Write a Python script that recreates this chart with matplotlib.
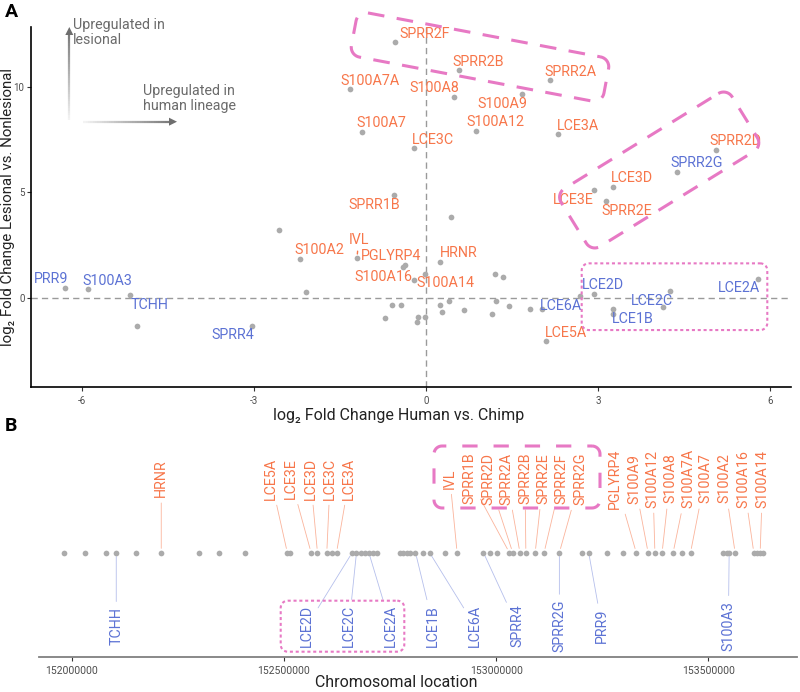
import numpy as np
import matplotlib
matplotlib.use("Agg")
import matplotlib.pyplot as plt
from matplotlib.lines import Line2D
from matplotlib.patches import Polygon

plt.rcParams['font.family'] = ['Roboto', 'DejaVu Sans']
plt.rcParams['lines.scale_dashes'] = False
plt.rcParams['axes.unicode_minus'] = False

ORANGE = "#F7764A"
BLUE = "#5C72D4"
PINK = "#E779C4"
DOT = "#ABABAB"
W, H = 800, 692

# ---- panel A: log2FC human vs chimp (x) and lesional vs nonlesional (y)
fc_human = [-0.55, 0.57, 2.16, -1.33, 0.48, 1.66, -1.12, 0.86, -0.22, 2.30,
            5.05, 4.38, 3.25, 2.93, 3.14, -0.56, 0.43, -1.21, -0.41, -0.37,
            0.23, -0.21, -0.02, 1.20, 1.34, 2.93, 2.68, 4.25, 5.79, 4.12,
            3.26, 3.25, 2.02, 2.08, 1.81, 1.44, 1.22, 1.14, 0.66, 0.39,
            0.24, 0.27, -0.03, -0.15, -0.17, -0.44, -0.60, -0.72, -2.57, -2.21,
            -2.09, -6.31, -5.90, -5.17, -5.05, -3.04]
fc_lesion = [12.14, 10.79, 10.32, 9.90, 9.54, 9.68, 7.88, 7.91, 7.09, 7.75,
             7.01, 5.98, 5.24, 5.11, 4.60, 4.86, 3.82, 1.88, 1.44, 1.54,
             1.69, 0.84, 1.14, 1.14, 1.00, 0.19, 0.07, 0.32, 0.90, -0.44,
             -0.55, -0.76, -0.55, -2.05, -0.52, -0.41, -0.17, -0.76, -0.57, -0.16,
             -0.36, -0.69, -0.93, -0.92, -1.17, -0.36, -0.36, -0.96, 3.23, 1.85,
             0.26, 0.47, 0.40, 0.11, -1.36, -1.34]

# label name, label position, up (orange) / down (blue) in human lineage
a_labels = ["SPRR2F", "SPRR2B", "SPRR2A", "S100A7A", "S100A8", "S100A9", "S100A7",
            "S100A12", "LCE3C", "LCE3A", "SPRR2D", "SPRR2G", "LCE3D", "LCE3E",
            "SPRR2E", "SPRR1B", "IVL", "PGLYRP4", "HRNR", "S100A16", "S100A14",
            "S100A2", "LCE5A", "LCE2D", "LCE2A", "LCE2C", "LCE1B", "LCE6A",
            "PRR9", "S100A3", "TCHH", "SPRR4"]
a_lab_x = [-0.02, 0.91, 2.51, -0.99, 0.14, 1.32, -0.79, 1.20, 0.12, 2.64,
           5.39, 4.72, 3.58, 2.57, 3.49, -0.90, -1.18, -0.61, 0.57, -0.74, 0.33,
           -1.87, 2.43, 3.08, 5.45, 3.93, 3.60, 2.35, -6.55, -5.56, -4.83, -3.37]
a_lab_y = [12.50, 11.20, 10.73, 10.30, 9.95, 9.21, 8.29, 8.32, 7.48, 8.15,
           7.42, 6.41, 5.67, 4.64, 4.13, 4.40, 2.74, 1.96, 2.12, 0.98, 0.70,
           2.26, -1.66, 0.60, 0.45, -0.14, -1.01, -0.39, 0.89, 0.81, -0.35, -1.79]
a_lab_up = [1, 1, 1, 1, 1, 1, 1, 1, 1, 1, 1, 0, 1, 1, 1, 1, 1, 1, 1, 1, 1,
            1, 1, 0, 0, 0, 0, 0, 0, 0, 0, 0]
ivl_point = (-1.21, 1.88)

# ---- panel B: chromosomal location of each gene
chrom_pos = [151982000, 152031000, 152082000, 152105000, 152152000, 152211000,
             152301000, 152347000, 152409000, 152508000, 152514000, 152564000,
             152579000, 152601000, 152613000, 152624000, 152661000, 152671000,
             152682000, 152691000, 152700000, 152711000, 152719000, 152773000,
             152781000, 152789000, 152797000, 152810000, 152827000, 152843000,
             152879000, 152908000, 152970000, 152986000, 153001000, 153031000,
             153039000, 153056000, 153070000, 153092000, 153113000, 153149000,
             153202000, 153218000, 153260000, 153299000, 153330000, 153358000,
             153374000, 153391000, 153417000, 153438000, 153458000, 153535000,
             153543000, 153549000, 153563000, 153607000, 153615000, 153622000,
             153629000]

up_genes = ["HRNR", "LCE5A", "LCE3E", "LCE3D", "LCE3C", "LCE3A", "IVL", "SPRR1B",
            "SPRR2D", "SPRR2A", "SPRR2B", "SPRR2E", "SPRR2F", "SPRR2G", "PGLYRP4",
            "S100A9", "S100A12", "S100A8", "S100A7A", "S100A7", "S100A2",
            "S100A16", "S100A14"]
up_pos = [152211000, 152508000, 152564000, 152579000, 152601000, 152624000,
          152908000, 153031000, 153039000, 153056000, 153070000, 153092000,
          153113000, 153149000, 153330000, 153358000, 153374000, 153391000,
          153417000, 153458000, 153563000, 153607000, 153622000]
up_lab = [152211000, 152469000, 152516000, 152563000, 152609000, 152654000,
          152891000, 152937000, 152982000, 153025000, 153068000, 153111000,
          153154000, 153198000, 153280000, 153325000, 153369000, 153410000,
          153453000, 153492000, 153537000, 153582000, 153628000]
down_genes = ["TCHH", "LCE2D", "LCE2C", "LCE2A", "LCE1B", "LCE6A", "SPRR4",
              "SPRR2G", "PRR9", "S100A3"]
down_pos = [152105000, 152661000, 152671000, 152700000, 152810000, 152843000,
            152970000, 153149000, 153218000, 153549000]
down_lab = [152105000, 152554000, 152653000, 152752000, 152852000, 152950000,
            153050000, 153149000, 153249000, 153547000]
b_ticks = [152000000, 152500000, 153000000, 153500000]


def rounded_rect(cx, cy, w, h, r, ang, n=10):
    """Rounded rectangle outline in figure pixels (y down) -> figure fraction."""
    pts = []
    hw, hh = w / 2 - r, h / 2 - r
    for ox, oy, a0 in [(hw, -hh, -90), (hw, hh, 0), (-hw, hh, 90), (-hw, -hh, 180)]:
        for t in np.linspace(a0, a0 + 90, n):
            pts.append((ox + r * np.cos(np.radians(t)), oy + r * np.sin(np.radians(t))))
    pts.append(pts[0])
    pts = np.array(pts)
    c, s = np.cos(np.radians(ang)), np.sin(np.radians(ang))
    x = cx + pts[:, 0] * c - pts[:, 1] * s
    y = cy + pts[:, 0] * s + pts[:, 1] * c
    return x / W, 1 - y / H


def pink_box(fig, cx, cy, w, h, r, ang, ls, lw):
    x, y = rounded_rect(cx, cy, w, h, r, ang)
    fig.add_artist(Line2D(x, y, transform=fig.transFigure, color=PINK, lw=lw,
                          linestyle=ls, dash_capstyle='butt', zorder=10))


def grad_arrow(fig, x0, y0, x1, y1, color="#6e6e6e"):
    n = 40
    xs, ys = np.linspace(x0, x1, n + 1), np.linspace(y0, y1, n + 1)
    L = np.hypot(x1 - x0, y1 - y0)
    ux, uy = (x1 - x0) / L, (y1 - y0) / L
    for i in range(n):
        if np.hypot(xs[i + 1] - x0, ys[i + 1] - y0) > L - 6:
            break
        fig.add_artist(Line2D([xs[i] / W, xs[i + 1] / W], [1 - ys[i] / H, 1 - ys[i + 1] / H],
                              transform=fig.transFigure, color=color, lw=1.6,
                              alpha=0.08 + 0.92 * i / n, solid_capstyle='butt'))
    bx, by = x1 - 8 * ux, y1 - 8 * uy
    px, py = -uy * 4, ux * 4
    tri = [(x1, y1), (bx + px, by + py), (bx - px, by - py)]
    fig.add_artist(Polygon([(a / W, 1 - b / H) for a, b in tri], closed=True,
                           transform=fig.transFigure, color=color, lw=0))


fig = plt.figure(figsize=(8, 6.92), dpi=100)

# ---------------- panel A
axA = fig.add_axes([30.7 / W, 1 - 386.7 / H, (791 - 30.7) / W, (386.7 - 26.7) / H])
axA.set_xlim(-6.9, 6.36)
axA.set_ylim(-4.22, 12.86)
axA.axhline(0, color="#9a9a9a", lw=1, ls=(0, (4.5, 3)), zorder=1)
axA.axvline(0, color="#9a9a9a", lw=1, ls=(0, (4.5, 3)), zorder=1)
axA.scatter(fc_human, fc_lesion, s=17, color=DOT, linewidths=0, zorder=3)
for name, lx, ly, up in zip(a_labels, a_lab_x, a_lab_y, a_lab_up):
    col = ORANGE if up else BLUE
    if name == "IVL":
        axA.annotate(name, xy=ivl_point, xytext=(lx, ly), ha='center', va='center',
                     color=col, fontsize=10.3,
                     arrowprops=dict(arrowstyle='-', color=col, lw=1, shrinkA=1, shrinkB=3))
    else:
        axA.text(lx, ly, name, ha='center', va='center', color=col, fontsize=10.3, zorder=4)
for s in ["top", "right"]:
    axA.spines[s].set_visible(False)
for s in ["left", "bottom"]:
    axA.spines[s].set_linewidth(1.2)
axA.set_xticks([-6, -3, 0, 3, 6])
axA.set_xticklabels(["-6", "-3", "0", "3", "6"])
axA.set_yticks([0, 5, 10])
axA.set_yticklabels(["0", "5", "10"])
axA.tick_params(labelsize=7, labelcolor="#4d4d4d", color="#333333", length=3, width=0.8)
axA.tick_params(axis='y', pad=1.5)
axA.set_xlabel("log₂ Fold Change Human vs. Chimp", fontsize=11.5, color="#222222")
axA.xaxis.set_label_coords(0.484, -0.06)
axA.set_ylabel("log₂ Fold Change Lesional vs. Nonlesional", fontsize=10.8, color="#222222")
axA.yaxis.set_label_coords(-0.0205, 0.5)

grad_arrow(fig, 69.3, 120, 69.3, 27)
grad_arrow(fig, 83.3, 121.7, 177, 121.7)
fig.text(73.3 / W, 1 - 18 / H, "Upregulated in\nlesional", ha='left', va='top',
         fontsize=10.3, color="#6b6b6b", linespacing=1.12)
fig.text(142.7 / W, 1 - 84 / H, "Upregulated in\nhuman lineage", ha='left', va='top',
         fontsize=10.3, color="#6b6b6b", linespacing=1.12)

pink_box(fig, 480, 57, 257, 45, 10, 10.7, (0, (12, 9)), 2.2)
pink_box(fig, 659.2, 170, 201, 68, 10, -31.7, (0, (12, 9)), 2.2)
pink_box(fig, 674.5, 296.7, 185.6, 66.7, 7, 0, (0, (2.2, 2)), 1.5)

# ---------------- panel B
axB = fig.add_axes([39.3 / W, 1 - 656.7 / H, (796.7 - 39.3) / W, (656.7 - 440) / H])
axB.set_xlim(151923700, 153708100)
axB.set_ylim(-1, 1.08)
axB.scatter(chrom_pos, np.zeros(len(chrom_pos)), s=17, color=DOT, linewidths=0, zorder=3)
for name, gx, lx in zip(up_genes, up_pos, up_lab):
    axB.annotate(name, xy=(gx, 0), xytext=(lx, 0.71), rotation=90, ha='center',
                 va='center', color=ORANGE, fontsize=10.3,
                 arrowprops=dict(arrowstyle='-', color=ORANGE, lw=0.6, alpha=0.55,
                                 shrinkA=2, shrinkB=3))
for name, gx, lx in zip(down_genes, down_pos, down_lab):
    axB.annotate(name, xy=(gx, 0), xytext=(lx, -0.706), rotation=90, ha='center',
                 va='center', color=BLUE, fontsize=10.3,
                 arrowprops=dict(arrowstyle='-', color=BLUE, lw=0.6, alpha=0.45,
                                 shrinkA=2, shrinkB=3))
for s in ["top", "right", "left"]:
    axB.spines[s].set_visible(False)
axB.spines["bottom"].set_color("#808080")
axB.spines["bottom"].set_linewidth(1.3)
axB.set_yticks([])
axB.set_xticks(b_ticks)
axB.set_xticklabels([str(t) for t in b_ticks])
axB.tick_params(labelsize=7.5, labelcolor="#4d4d4d", color="#333333", length=3, width=0.8)
axB.set_xlabel("Chromosomal location", fontsize=11.5, color="#222222")
axB.xaxis.set_label_coords(0.471, -0.085)

pink_box(fig, 517, 477, 166, 62, 8, 0, (0, (11, 11.5)), 2.2)
pink_box(fig, 342.5, 626.2, 123.6, 51, 7, 0, (0, (2.2, 2)), 1.5)

fig.text(5 / W, 1 - 11.7 / H, "A", fontsize=14, fontweight='bold', ha='left', va='center')
fig.text(5 / W, 1 - 426 / H, "B", fontsize=14, fontweight='bold', ha='left', va='center')

fig.savefig("out.png", dpi=100)
